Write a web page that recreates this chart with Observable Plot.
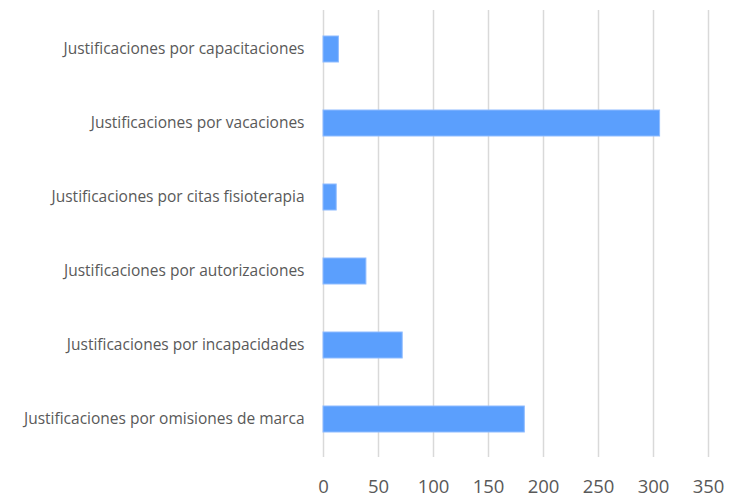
<!DOCTYPE html>
<html>
<head>
<meta charset="utf-8">
<script src="https://cdn.jsdelivr.net/npm/d3@7"></script>
<script src="https://cdn.jsdelivr.net/npm/@observablehq/plot@0.6"></script>
<style>
  html, body { margin: 0; padding: 0; background: #fff; }
</style>
</head>
<body>
<div id="chart"></div>
<script>
const categories = [
  "Justificaciones por capacitaciones",
  "Justificaciones por vacaciones",
  "Justificaciones por citas fisioterapia",
  "Justificaciones por autorizaciones",
  "Justificaciones por incapacidades",
  "Justificaciones por omisiones de marca"
];
const values = [14, 306, 12, 39, 72, 183];
const xTicks = [0, 50, 100, 150, 200, 250, 300, 350];

const data = categories.map((c, i) => ({category: c, value: values[i]}));

const chart = Plot.plot({
  width: 742,
  height: 499,
  marginLeft: 323,
  marginRight: 34,
  marginTop: 10,
  marginBottom: 42,
  style: {fontFamily: "'Open Sans', sans-serif", background: "#fff", overflow: "visible"},
  x: {domain: [0, 350], ticks: xTicks, label: null},
  y: {domain: categories, label: null, paddingInner: 0.65, paddingOuter: 0.325},
  marks: [
    Plot.gridX(xTicks, {stroke: "#d9d9d9", strokeOpacity: 1, strokeWidth: 1.5}),
    Plot.barX(data, {x: "value", y: "category", fill: "#5b9ffd", stroke: "#8fbcff", strokeWidth: 1}),
    Plot.axisX(xTicks, {tickSize: 0, tickPadding: 22, fontSize: 18.5, fill: "#595959"}),
    Plot.axisY({tickSize: 0, tickPadding: 19, fontSize: 15.5, fill: "#595959"})
  ]
});
document.getElementById("chart").appendChild(chart);
</script>
</body>
</html>
